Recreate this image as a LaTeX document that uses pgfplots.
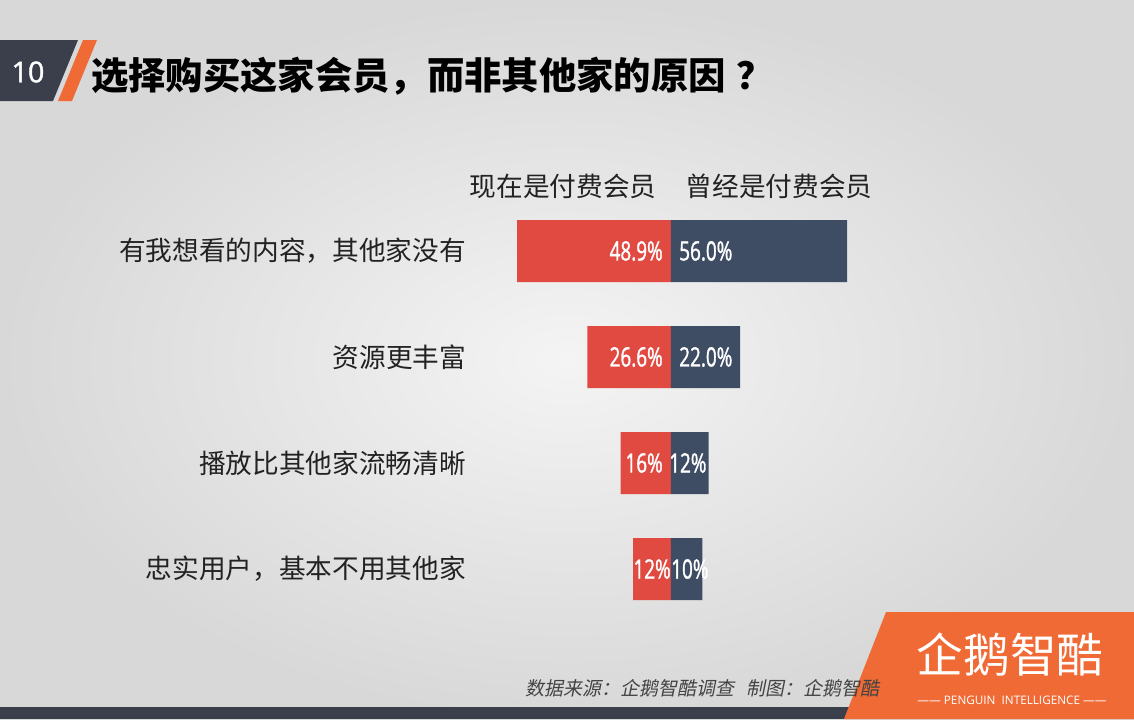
\documentclass[border=0pt]{standalone}
\usepackage{pgfplots}
\pgfplotsset{compat=1.18}
\usepackage{fontspec}
\setmainfont{Noto Sans CJK SC}
\newfontfamily\numfont[FakeStretch=0.71,FakeBold=1.2]{Open Sans}
\newfontfamily\latinfont{Open Sans}
\newfontfamily\tenfont[FakeBold=1.5]{Open Sans}
\newfontfamily\footfont[FakeSlant=0.2]{Noto Sans CJK SC}
\definecolor{barred}{HTML}{E04A41}
\definecolor{barnavy}{HTML}{3F4D64}
\definecolor{darkbox}{HTML}{3A3F4B}
\definecolor{orng}{HTML}{F06A35}
\definecolor{txt}{HTML}{222222}
\definecolor{bgin}{HTML}{F4F4F4}
\definecolor{bgout}{HTML}{D8D8D8}
\begin{document}
\begin{tikzpicture}[x=0.75pt,y=-0.75pt]
% background
\shade[inner color=bgin, outer color=bgout] (0,0) rectangle (1134,719);
\path[use as bounding box] (0,0) rectangle (1134,719);
% title block
\fill[darkbox] (0,40) -- (78,40) -- (53,101) -- (0,101) -- cycle;
\fill[orng] (83,40) -- (97,40) -- (72,101) -- (58,101) -- cycle;
\node[text=white, font=\tenfont\fontsize{21.5}{23}\selectfont] at (28,72) {10};
\node[anchor=west, inner sep=0pt, text=black, font=\bfseries\fontsize{28}{30}\selectfont] at (91,76) {选择购买这家会员，而非其他家的原因\hspace{8pt}？};
% bottom bar and logo block
\fill[darkbox] (0,707) rectangle (860,719);
\fill[orng] (886,612) -- (1134,612) -- (1134,719) -- (844,719) -- cycle;
\node[text=white, font=\fontsize{35}{37}\selectfont] at (1010,655) {企鹅智酷};
\node[text=white, font=\latinfont\fontsize{8.8}{10}\selectfont] at (1012,700) {—— PENGUIN\ \ INTELLIGENCE ——};
% footer
\node[anchor=east, text=txt!85, font=\footfont\fontsize{14.2}{16}\selectfont] at (884,688) {数据来源：企鹅智酷调查\ \ \ 制图：企鹅智酷};
% headers
\node[text=txt, font=\fontsize{20}{22}\selectfont] at (563,186) {现在是付费会员};
\node[text=txt, font=\fontsize{20}{22}\selectfont] at (779,186) {曾经是付费会员};
\begin{axis}[
  at={(361.7pt,-148.5pt)}, anchor=north west,
  scale only axis, width=283.05pt, height=318pt,
  xmin=-60, xmax=60, ymin=0.5, ymax=4.5, y dir=reverse,
  hide axis, clip=false,
  xbar, bar width=0.585, bar shift=0,
]
\addplot[fill=barred, draw=none] coordinates {(-48.9,1) (-26.6,2) (-16,3) (-12,4)};
\addplot[fill=barnavy, draw=none] coordinates {(56.0,1) (22.0,2) (12,3) (10,4)};
% category labels
\begin{scope}[every node/.style={anchor=east, text=txt, font=\fontsize{20}{22}\selectfont, inner sep=0pt}]
\node at (axis cs:-60,1) [xshift=-12pt] {有我想看的内容，其他家没有};
\node at (axis cs:-60,2) [xshift=-12pt] {资源更丰富};
\node at (axis cs:-60,3) [xshift=-12pt] {播放比其他家流畅清晰};
\node at (axis cs:-60,4) [xshift=-12pt] {忠实用户，基本不用其他家};
\end{scope}
% value labels
\begin{scope}[every node/.style={text=white, font=\numfont\fontsize{20}{22}\selectfont, inner sep=0pt}]
\node[anchor=east] at (axis cs:0,1) [xshift=-6pt] {48.9\%};
\node[anchor=west] at (axis cs:0,1) [xshift=6pt] {56.0\%};
\node[anchor=east] at (axis cs:0,2) [xshift=-6pt] {26.6\%};
\node[anchor=west] at (axis cs:0,2) [xshift=6pt] {22.0\%};
\node[anchor=east] at (axis cs:0,3) [xshift=-6pt] {16\%};
\node[anchor=west] at (axis cs:0,3) [xshift=-1.5pt] {12\%};
\node[anchor=east] at (axis cs:0,4) [xshift=0pt] {12\%};
\node[anchor=west] at (axis cs:0,4) [xshift=0pt] {10\%};
\end{scope}
\end{axis}
\end{tikzpicture}
\end{document}
